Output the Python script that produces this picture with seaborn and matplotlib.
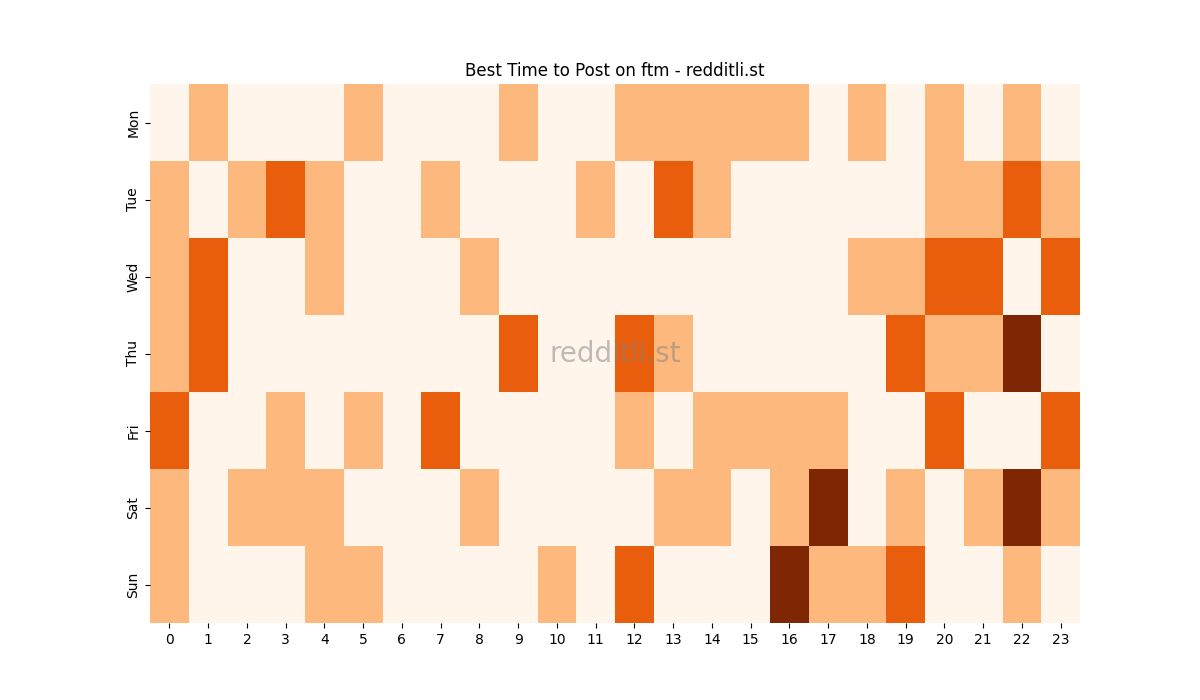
import matplotlib
matplotlib.use("Agg")
import matplotlib.pyplot as plt
import pandas as pd
import seaborn as sns

# ── data ──────────────────────────────────────────────────────────────────────
days = ["Mon", "Tue", "Wed", "Thu", "Fri", "Sat", "Sun"]
hours = list(range(24))

mon = [0, 1, 0, 0, 0, 1, 0, 0, 0, 1, 0, 0, 1, 1, 1, 1, 1, 0, 1, 0, 1, 0, 1, 0]
tue = [1, 0, 1, 2, 1, 0, 0, 1, 0, 0, 0, 1, 0, 2, 1, 0, 0, 0, 0, 0, 1, 1, 2, 1]
wed = [1, 2, 0, 0, 1, 0, 0, 0, 1, 0, 0, 0, 0, 0, 0, 0, 0, 0, 1, 1, 2, 2, 0, 2]
thu = [1, 2, 0, 0, 0, 0, 0, 0, 0, 2, 0, 0, 2, 1, 0, 0, 0, 0, 0, 2, 1, 1, 3, 0]
fri = [2, 0, 0, 1, 0, 1, 0, 2, 0, 0, 0, 0, 1, 0, 1, 1, 1, 1, 0, 0, 2, 0, 0, 2]
sat = [1, 0, 1, 1, 1, 0, 0, 0, 1, 0, 0, 0, 0, 1, 1, 0, 1, 3, 0, 1, 0, 1, 3, 1]
sun = [1, 0, 0, 0, 1, 1, 0, 0, 0, 0, 1, 0, 2, 0, 0, 0, 3, 1, 1, 2, 0, 0, 1, 0]

df = pd.DataFrame([mon, tue, wed, thu, fri, sat, sun], index=days, columns=hours)

# ── chart ─────────────────────────────────────────────────────────────────────
fig, ax = plt.subplots(figsize=(12, 7), dpi=100)
sns.heatmap(df, cmap="Oranges", cbar=False, vmin=0, vmax=3, ax=ax)
ax.set_title("Best Time to Post on ftm - redditli.st")
ax.set_xlabel(""); ax.set_ylabel("")
ax.text(0.5, 0.5, "redditli.st", transform=ax.transAxes, ha="center", va="center",
        fontsize=20, color="gray", alpha=0.5)

fig.savefig("out.png", dpi=100)
